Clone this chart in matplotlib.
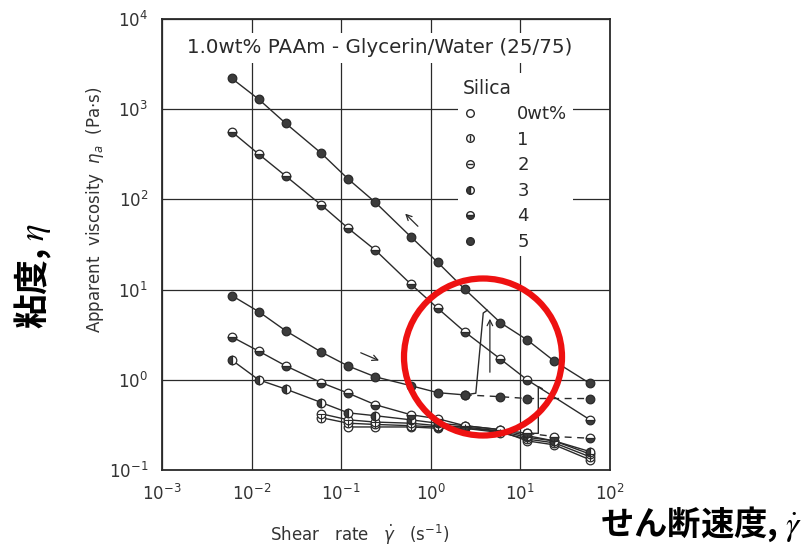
import numpy as np
import matplotlib
matplotlib.use("Agg")
import matplotlib.pyplot as plt
from matplotlib.lines import Line2D
from matplotlib.patches import Ellipse

# shear rates (1/s) used by the rheometer
rate_all = [0.006, 0.012, 0.024, 0.06, 0.12, 0.24, 0.6, 1.2, 2.4, 6, 12, 24, 60]

# apparent viscosity (Pa s)
s5_up = [2200, 1290, 698, 325, 168, 93, 38.5, 20, 10.1, 4.3, 2.76, 1.61, 0.91]
s5_low_x = [0.006, 0.012, 0.024, 0.06, 0.12, 0.24, 0.6, 1.2, 2.4]
s5_low = [8.6, 5.7, 3.5, 2.03, 1.42, 1.08, 0.86, 0.72, 0.68]
s5_dash_x = [2.4, 6, 12, 60]
s5_dash = [0.68, 0.65, 0.62, 0.62]
s5_jump_x = [2.4, 3.19, 3.86, 4.28]
s5_jump_y = [0.68, 0.71, 5.5, 5.9]

s4_up_x = [0.006, 0.012, 0.024, 0.06, 0.12, 0.24, 0.6, 1.2, 2.4, 6, 12, 60]
s4_up = [564, 318, 182, 86.7, 47.8, 27.5, 11.5, 6.2, 3.4, 1.70, 0.995, 0.36]
s4_low_x = [0.006, 0.012, 0.024, 0.06, 0.12, 0.24, 0.6, 1.2, 2.4, 6, 12]
s4_low = [3.0, 2.08, 1.43, 0.93, 0.71, 0.53, 0.41, 0.37, 0.31, 0.28, 0.255]
s4_dash_x = [12, 24, 60]
s4_dash = [0.255, 0.235, 0.225]
s4_jump_x = [12, 15.9, 15.9, 17.5]
s4_jump_y = [0.255, 0.255, 0.84, 0.80]

s3 = [1.66, 1.0, 0.79, 0.56, 0.43, 0.40, 0.36, 0.33, 0.31, 0.28, 0.24, 0.21, 0.16]
s2_x = [0.06, 0.12, 0.24, 0.6, 1.2, 2.4, 6, 12, 24, 60]
s2 = [0.42, 0.36, 0.34, 0.33, 0.31, 0.30, 0.27, 0.23, 0.21, 0.15]
s1_x = [0.06, 0.12, 0.24, 0.6, 1.2, 2.4, 6, 12, 24, 60]
s1 = [0.38, 0.33, 0.32, 0.31, 0.30, 0.29, 0.26, 0.22, 0.20, 0.14]
s0_x = [0.12, 0.24, 0.6, 1.2, 2.4, 6, 12, 24, 60]
s0 = [0.30, 0.30, 0.30, 0.29, 0.29, 0.27, 0.21, 0.19, 0.13]

# arrows (tail, head) in data coords
arrow_back = [(0.757, 47.9), (0.493, 73)]
arrow_fwd = [(0.155, 2.05), (0.283, 1.59)]
arrow_jump = [(4.58, 1.13), (4.58, 5.1)]

legend_labels = ["0wt%", "1", "2", "3", "4", "5"]

ink = "#2a2a2a"
dark = "#3c3c3c"
ms = 6.2

fig = plt.figure(figsize=(8.04, 5.49), dpi=100)
ax = fig.add_axes([0.2015, 0.1439, 0.557, 0.8215])
ax.set_xscale("log")
ax.set_yscale("log")
ax.set_xlim(1e-3, 1e2)
ax.set_ylim(1e-1, 1e4)


def series(x, y, fill, extra=None, ls="-"):
    kw = dict(color=ink, lw=1.0, ls=ls, marker="o", ms=ms, mec=ink, mew=0.9, zorder=3)
    if fill == "full":
        kw.update(mfc=dark)
    elif fill == "none":
        kw.update(mfc="white")
    else:
        kw.update(mfc=dark, fillstyle=fill, markerfacecoloralt="white")
    ax.plot(x, y, **kw)
    if extra:
        ax.plot(x, y, ls="none", marker=extra, ms=ms * 0.9, mec=ink, mew=0.8, zorder=4)


# bottom cluster
series(s0_x, s0, "none")
series(s1_x, s1, "none", extra="|")
series(s2_x, s2, "none", extra="_")
series(rate_all, s3, "left")
# silica 4
series(s4_up_x, s4_up, "bottom")
series(s4_low_x, s4_low, "bottom")
series(s4_dash_x, s4_dash, "bottom", ls=(0, (5, 4)))
ax.plot(s4_jump_x, s4_jump_y, color=ink, lw=1.0, zorder=2)
# silica 5
series(rate_all, s5_up, "full")
series(s5_low_x, s5_low, "full")
series(s5_dash_x, s5_dash, "full", ls=(0, (5, 4)))
ax.plot(s5_jump_x, s5_jump_y, color=ink, lw=1.0, zorder=2)

for tail, head in [arrow_back, arrow_fwd, arrow_jump]:
    ax.annotate("", xy=head, xytext=tail,
                arrowprops=dict(arrowstyle="->", color=ink, lw=0.9))

ax.grid(True, which="major", color=ink, lw=0.9)
ax.set_axisbelow(True)
ax.minorticks_off()
ax.set_xticks([1e-3, 1e-2, 1e-1, 1e0, 1e1, 1e2])
ax.set_xticklabels([r"$10^{%d}$" % e for e in range(-3, 3)])
ax.set_yticks([1e-1, 1e0, 1e1, 1e2, 1e3, 1e4])
ax.set_yticklabels([r"$10^{%d}$" % e for e in range(-1, 5)])
ax.tick_params(length=0, labelsize=12, colors="#333333", pad=10)
for sp in ax.spines.values():
    sp.set_color(ink)
    sp.set_linewidth(1.3)

ax.text(0.487, 0.936, "1.0wt% PAAm - Glycerin/Water (25/75)", transform=ax.transAxes,
        ha="center", va="center", fontsize=14.3, color=ink,
        bbox=dict(fc="white", ec="none", pad=4), zorder=5)

lm = 5.5
circ = dict(ls="none", marker="o", ms=lm, mec=ink)
handles = [
    Line2D([], [], mfc="white", **circ),
    (Line2D([], [], mfc="white", **circ),
     Line2D([], [], ls="none", marker="|", ms=lm * 0.9, mec=ink)),
    (Line2D([], [], mfc="white", **circ),
     Line2D([], [], ls="none", marker="_", ms=lm * 0.9, mec=ink)),
    Line2D([], [], mfc=dark, fillstyle="left", markerfacecoloralt="white", **circ),
    Line2D([], [], mfc=dark, fillstyle="bottom", markerfacecoloralt="white", **circ),
    Line2D([], [], mfc=dark, **circ),
]
leg = ax.legend(handles, legend_labels, title="Silica", loc="upper left",
                bbox_to_anchor=(0.64, 0.9), frameon=True, fontsize=13,
                title_fontsize=13.5, handlelength=0.8, handletextpad=2.2,
                labelspacing=0.42, borderpad=0.3, alignment="left")
leg.get_frame().set_facecolor("white")
leg.get_frame().set_edgecolor("none")
leg.get_frame().set_alpha(1)
leg.set_zorder(5)
for t in leg.get_texts():
    t.set_color(ink)
leg.get_title().set_color(ink)

fig.text(0.118, 0.617, r"Apparent  viscosity  $\eta_a$  (Pa$\cdot$s)", rotation=90,
         ha="center", va="center", fontsize=12, color="#333333")
fig.text(0.448, 0.025, r"Shear   rate   $\dot{\gamma}$   (s$^{-1}$)",
         ha="center", va="center", fontsize=12, color="#333333")

# Japanese labels
fig.text(0.042, 0.497, "粘度, $\\eta$", rotation=90, ha="center", va="center",
         fontsize=25, fontweight="bold", family=["Noto Sans CJK JP", "DejaVu Sans"],
         math_fontfamily="stix")
fig.text(0.997, 0.045, "せん断速度, $\\dot{\\gamma}$", ha="right", va="center",
         fontsize=24, fontweight="bold", family=["Noto Sans CJK JP", "DejaVu Sans"],
         math_fontfamily="stix")

fig.add_artist(Ellipse((483 / 804, 1 - 357 / 549), width=158 / 804, height=157 / 549,
                       transform=fig.transFigure, fill=False, ec="#ee1111", lw=4.5))

fig.savefig("out.png", dpi=100)
